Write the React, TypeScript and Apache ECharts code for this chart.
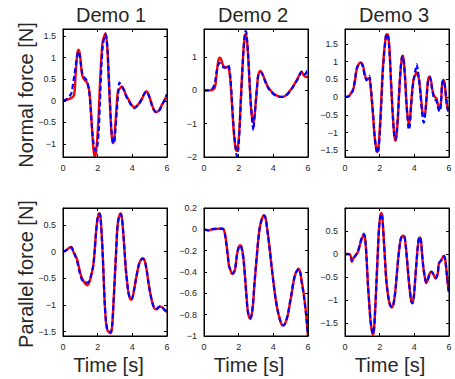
import React, { useEffect, useRef } from "react";
import * as echarts from "echarts";

const titles = ["Demo 1", "Demo 2", "Demo 3"];
const rowLabels = ["Normal force [N]", "Parallel force [N]"];
const xLabel = "Time [s]";

const yMins = [-1.3, -2, -1.69, -1.58, -1, -1.78];
const yMaxs = [1.66, 1.84, 1.92, 0.82, 0.2, 1.0];
const ySplits = [5, 5, 7, 5, 5, 5];
const yTicks1 = [-1, -0.5, 0, 0.5, 1, 1.5];
const yTicks2 = [-2, -1, 0, 1];
const yTicks3 = [-1.5, -1, -0.5, 0, 0.5, 1, 1.5];
const yTicks4 = [-1.5, -1, -0.5, 0, 0.5];
const yTicks5 = [-1, -0.8, -0.6, -0.4, -0.2, 0, 0.2];
const yTicks6 = [-1.5, -1, -0.5, 0, 0.5];
const yTickSets = [yTicks1, yTicks2, yTicks3, yTicks4, yTicks5, yTicks6];

const red1 = [[0,0],[0.19,0.02],[0.4,0.05],[0.6,0.1],[0.67,0.22],[0.75,0.75],[0.83,1.1],[0.9,1.18],[0.98,1.06],[1.06,0.75],[1.13,0.56],[1.25,0.48],[1.37,0.43],[1.44,0.37],[1.52,0.22],[1.6,-0.17],[1.67,-0.63],[1.75,-1.09],[1.83,-1.3],[1.9,-1.2],[1.98,-0.86],[2.06,-0.32],[2.13,0.37],[2.21,0.98],[2.29,1.37],[2.4,1.52],[2.46,1.56],[2.56,1.2],[2.63,0.6],[2.71,-0.09],[2.79,-0.7],[2.87,-0.98],[2.94,-0.94],[3.02,-0.55],[3.1,-0.09],[3.17,0.22],[3.29,0.29],[3.4,0.33],[3.52,0.25],[3.65,0.12],[3.79,0.02],[3.94,-0.09],[4.13,-0.15],[4.33,-0.09],[4.52,0.02],[4.67,0.14],[4.81,0.22],[4.94,0.14],[5.1,-0.05],[5.25,-0.21],[5.4,-0.26],[5.56,-0.21],[5.71,-0.09],[5.87,0.02],[6,0.14]];
const blue1 = [[0,0],[0.19,0.03],[0.4,0.12],[0.5,0.2],[0.6,0.45],[0.67,0.62],[0.75,0.85],[0.83,1.07],[0.9,1.14],[0.98,1.0],[1.06,0.75],[1.13,0.6],[1.25,0.53],[1.37,0.47],[1.44,0.36],[1.52,0.18],[1.6,-0.2],[1.67,-0.6],[1.75,-0.95],[1.83,-1.12],[1.9,-1.15],[1.98,-1.05],[2.06,-0.7],[2.13,-0.05],[2.21,0.75],[2.29,1.25],[2.4,1.5],[2.46,1.53],[2.56,1.25],[2.63,0.65],[2.71,-0.05],[2.79,-0.65],[2.87,-0.95],[2.94,-0.98],[3.02,-0.7],[3.1,-0.25],[3.17,0.1],[3.25,0.42],[3.29,0.4],[3.4,0.33],[3.52,0.24],[3.65,0.1],[3.79,0],[3.94,-0.1],[4.13,-0.17],[4.33,-0.1],[4.52,0.02],[4.67,0.15],[4.81,0.21],[4.94,0.13],[5.1,-0.07],[5.25,-0.22],[5.4,-0.27],[5.56,-0.22],[5.71,-0.1],[5.87,0.03],[6,0.15]];

const red2 = [[0,0],[0.25,0],[0.44,0.01],[0.6,0.05],[0.67,0.2],[0.75,0.6],[0.83,0.9],[0.9,0.98],[0.98,0.95],[1.06,0.8],[1.17,0.7],[1.29,0.68],[1.37,0.72],[1.44,0.65],[1.52,0.3],[1.6,-0.3],[1.67,-0.9],[1.75,-1.45],[1.83,-1.75],[1.9,-1.82],[1.98,-1.6],[2.06,-1.0],[2.13,-0.2],[2.21,0.6],[2.29,1.3],[2.37,1.65],[2.42,1.7],[2.48,1.5],[2.56,0.9],[2.63,0.2],[2.71,-0.5],[2.79,-0.9],[2.85,-0.96],[2.9,-0.85],[2.98,-0.4],[3.06,0.1],[3.13,0.45],[3.25,0.58],[3.37,0.5],[3.52,0.3],[3.67,0.12],[3.83,0],[4.02,-0.1],[4.21,-0.16],[4.4,-0.19],[4.6,-0.19],[4.79,-0.12],[4.98,0],[5.17,0.15],[5.37,0.32],[5.52,0.48],[5.63,0.56],[5.75,0.45],[5.87,0.4],[6,0.42]];
const blue2 = [[0,0],[0.25,0],[0.44,0.03],[0.6,0.16],[0.67,0.35],[0.75,0.62],[0.83,0.78],[0.9,0.82],[0.98,0.78],[1.06,0.72],[1.17,0.68],[1.29,0.7],[1.37,0.76],[1.44,0.72],[1.52,0.4],[1.6,-0.2],[1.67,-0.8],[1.75,-1.35],[1.83,-1.75],[1.9,-1.98],[1.98,-1.75],[2.06,-1.1],[2.13,-0.3],[2.21,0.55],[2.29,1.3],[2.37,1.75],[2.42,1.78],[2.48,1.55],[2.56,0.95],[2.63,0.25],[2.71,-0.45],[2.79,-0.95],[2.85,-1.2],[2.9,-0.9],[2.98,-0.4],[3.06,0.1],[3.13,0.45],[3.25,0.55],[3.37,0.48],[3.52,0.28],[3.67,0.1],[3.83,-0.02],[4.02,-0.12],[4.21,-0.17],[4.4,-0.2],[4.6,-0.19],[4.79,-0.13],[4.98,-0.02],[5.17,0.13],[5.37,0.3],[5.52,0.47],[5.63,0.56],[5.75,0.48],[5.87,0.5],[5.94,0.58],[6,0.5]];

const red3 = [[0,0],[0.21,0.02],[0.33,0.1],[0.44,0.16],[0.56,0.4],[0.67,0.77],[0.79,0.93],[0.9,0.98],[1.02,0.91],[1.13,0.67],[1.25,0.49],[1.32,0.52],[1.4,0.53],[1.47,0.3],[1.55,-0.12],[1.63,-0.59],[1.7,-1.06],[1.78,-1.39],[1.86,-1.55],[1.93,-1.43],[2.01,-0.87],[2.09,-0.12],[2.16,0.63],[2.24,1.19],[2.32,1.57],[2.39,1.75],[2.47,1.77],[2.55,1.47],[2.62,0.82],[2.7,-0.03],[2.78,-0.68],[2.85,-1.1],[2.91,-1.23],[2.97,-1.1],[3.05,-0.59],[3.12,0.07],[3.2,0.72],[3.28,1.1],[3.33,1.17],[3.39,1.05],[3.47,0.53],[3.54,-0.12],[3.62,-0.59],[3.68,-0.73],[3.74,-0.64],[3.81,-0.22],[3.89,0.25],[3.97,0.53],[4.08,0.65],[4.14,0.7],[4.2,0.62],[4.27,0.5],[4.35,0.16],[4.43,-0.26],[4.5,-0.5],[4.58,-0.54],[4.66,-0.31],[4.74,0.21],[4.81,0.53],[4.89,0.58],[4.97,0.44],[5.04,0.21],[5.15,0.02],[5.27,-0.03],[5.34,-0.17],[5.42,-0.31],[5.48,-0.33],[5.54,-0.12],[5.61,0.39],[5.69,0.49],[5.77,0.3],[5.84,-0.07],[5.92,-0.31],[6,-0.36]];
const blue3 = [[0,0],[0.21,0.02],[0.33,0.1],[0.44,0.18],[0.56,0.45],[0.67,0.8],[0.79,0.92],[0.9,0.96],[1.02,0.88],[1.13,0.62],[1.25,0.47],[1.32,0.55],[1.4,0.6],[1.47,0.4],[1.55,-0.05],[1.63,-0.55],[1.7,-1.05],[1.78,-1.4],[1.86,-1.58],[1.93,-1.5],[2.01,-1.0],[2.09,-0.25],[2.16,0.5],[2.24,1.1],[2.32,1.55],[2.39,1.78],[2.47,1.75],[2.55,1.4],[2.62,0.8],[2.7,0.0],[2.78,-0.7],[2.85,-1.12],[2.91,-1.2],[2.97,-1.05],[3.05,-0.55],[3.12,0.1],[3.2,0.75],[3.28,1.12],[3.33,1.15],[3.39,1.0],[3.47,0.5],[3.54,-0.15],[3.62,-0.65],[3.68,-0.92],[3.74,-0.8],[3.81,-0.3],[3.89,0.2],[3.97,0.5],[4.08,0.8],[4.14,0.92],[4.2,0.75],[4.27,0.5],[4.35,0.1],[4.43,-0.35],[4.5,-0.65],[4.55,-0.72],[4.6,-0.6],[4.66,-0.3],[4.74,0.2],[4.81,0.5],[4.89,0.56],[4.97,0.42],[5.04,0.18],[5.15,-0.05],[5.27,-0.1],[5.34,-0.25],[5.42,-0.38],[5.48,-0.4],[5.54,-0.15],[5.61,0.4],[5.69,0.48],[5.77,0.28],[5.84,-0.05],[5.92,-0.35],[6,-0.42]];

const red4 = [[0,0],[0.19,0.03],[0.38,0.08],[0.48,0.09],[0.6,0],[0.71,-0.07],[0.83,-0.16],[0.94,-0.32],[1.06,-0.47],[1.17,-0.54],[1.29,-0.6],[1.4,-0.63],[1.52,-0.57],[1.63,-0.44],[1.75,-0.25],[1.83,0.03],[1.9,0.34],[1.98,0.59],[2.06,0.71],[2.12,0.72],[2.17,0.63],[2.25,0.22],[2.33,-0.35],[2.4,-0.92],[2.48,-1.32],[2.56,-1.47],[2.67,-1.51],[2.75,-1.53],[2.83,-1.42],[2.9,-1.04],[2.98,-0.54],[3.06,-0.03],[3.13,0.41],[3.21,0.63],[3.33,0.72],[3.4,0.63],[3.48,0.34],[3.56,-0.03],[3.63,-0.35],[3.71,-0.6],[3.79,-0.79],[3.87,-0.88],[3.94,-0.9],[4.02,-0.85],[4.13,-0.66],[4.25,-0.44],[4.37,-0.25],[4.48,-0.16],[4.6,-0.12],[4.71,-0.16],[4.83,-0.35],[4.94,-0.6],[5.06,-0.82],[5.17,-0.98],[5.29,-1.07],[5.4,-1.08],[5.52,-1.04],[5.63,-1.03],[5.75,-1.05],[5.87,-1.1],[6,-1.13]];
const blue4 = [[0,0],[0.19,0.03],[0.38,0.07],[0.48,0.08],[0.6,0],[0.71,-0.08],[0.83,-0.2],[0.94,-0.36],[1.06,-0.5],[1.17,-0.56],[1.29,-0.58],[1.4,-0.58],[1.52,-0.55],[1.63,-0.43],[1.75,-0.25],[1.83,0.03],[1.9,0.34],[1.98,0.59],[2.06,0.7],[2.12,0.71],[2.17,0.62],[2.25,0.22],[2.33,-0.35],[2.4,-0.92],[2.48,-1.3],[2.56,-1.46],[2.67,-1.5],[2.75,-1.51],[2.83,-1.4],[2.9,-1.04],[2.98,-0.54],[3.06,-0.03],[3.13,0.41],[3.21,0.63],[3.33,0.71],[3.4,0.63],[3.48,0.34],[3.56,-0.03],[3.63,-0.35],[3.71,-0.6],[3.79,-0.79],[3.87,-0.87],[3.94,-0.89],[4.02,-0.84],[4.13,-0.66],[4.25,-0.44],[4.37,-0.25],[4.48,-0.16],[4.6,-0.13],[4.71,-0.17],[4.83,-0.35],[4.94,-0.6],[5.06,-0.82],[5.17,-0.97],[5.29,-1.06],[5.4,-1.07],[5.52,-1.04],[5.63,-1.02],[5.75,-1.05],[5.87,-1.09],[6,-1.12]];

const red5 = [[0,0],[0.25,-0.01],[0.44,0],[0.63,0.003],[0.83,0.005],[1.02,0.005],[1.13,0],[1.21,-0.04],[1.29,-0.13],[1.37,-0.24],[1.44,-0.34],[1.52,-0.38],[1.6,-0.41],[1.67,-0.42],[1.75,-0.4],[1.83,-0.34],[1.9,-0.24],[1.98,-0.18],[2.06,-0.15],[2.13,-0.15],[2.21,-0.2],[2.29,-0.29],[2.37,-0.45],[2.44,-0.6],[2.52,-0.76],[2.6,-0.82],[2.67,-0.84],[2.75,-0.8],[2.83,-0.7],[2.9,-0.54],[2.98,-0.38],[3.06,-0.23],[3.13,-0.1],[3.21,0.01],[3.29,0.07],[3.37,0.11],[3.46,0.13],[3.56,0.1],[3.63,0.02],[3.71,-0.07],[3.79,-0.18],[3.9,-0.35],[4.02,-0.51],[4.13,-0.65],[4.25,-0.76],[4.37,-0.84],[4.48,-0.89],[4.6,-0.9],[4.71,-0.87],[4.83,-0.81],[4.94,-0.71],[5.06,-0.6],[5.17,-0.49],[5.29,-0.41],[5.4,-0.38],[5.46,-0.37],[5.56,-0.41],[5.63,-0.48],[5.75,-0.6],[5.87,-0.76],[5.94,-0.88],[6,-1.0]];
const blue5 = [[0,0],[0.25,-0.01],[0.44,0],[0.63,0.004],[0.83,0.006],[1.02,0.006],[1.13,0],[1.21,-0.05],[1.29,-0.14],[1.37,-0.25],[1.44,-0.34],[1.52,-0.38],[1.6,-0.41],[1.67,-0.41],[1.75,-0.39],[1.83,-0.33],[1.9,-0.24],[1.98,-0.18],[2.06,-0.15],[2.13,-0.16],[2.21,-0.2],[2.29,-0.3],[2.37,-0.46],[2.44,-0.61],[2.52,-0.76],[2.6,-0.82],[2.67,-0.83],[2.75,-0.8],[2.83,-0.69],[2.9,-0.53],[2.98,-0.37],[3.06,-0.22],[3.13,-0.1],[3.21,0.01],[3.29,0.07],[3.37,0.11],[3.46,0.13],[3.56,0.1],[3.63,0.02],[3.71,-0.08],[3.79,-0.19],[3.9,-0.35],[4.02,-0.52],[4.13,-0.65],[4.25,-0.76],[4.37,-0.84],[4.48,-0.89],[4.6,-0.9],[4.71,-0.87],[4.83,-0.8],[4.94,-0.7],[5.06,-0.59],[5.17,-0.48],[5.29,-0.41],[5.4,-0.38],[5.46,-0.37],[5.56,-0.41],[5.63,-0.49],[5.75,-0.61],[5.87,-0.77],[5.94,-0.89],[6,-1.0]];

const red6 = [[0,0],[0.21,0],[0.33,-0.04],[0.4,-0.17],[0.52,-0.07],[0.63,-0.02],[0.75,0.05],[0.86,0.2],[0.98,0.34],[1.09,0.44],[1.17,0.31],[1.25,-0.13],[1.32,-0.64],[1.4,-1.08],[1.47,-1.44],[1.55,-1.66],[1.61,-1.75],[1.67,-1.66],[1.74,-1.22],[1.82,-0.57],[1.9,0.09],[1.97,0.6],[2.05,0.85],[2.11,0.89],[2.16,0.78],[2.24,0.31],[2.32,-0.2],[2.39,-0.6],[2.47,-0.86],[2.55,-1.04],[2.62,-1.13],[2.7,-1.16],[2.78,-1.11],[2.85,-0.97],[2.93,-0.71],[3.0,-0.39],[3.08,-0.06],[3.16,0.2],[3.23,0.34],[3.35,0.4],[3.43,0.38],[3.51,0.16],[3.58,-0.13],[3.66,-0.49],[3.74,-0.79],[3.81,-1.0],[3.89,-1.06],[3.97,-0.93],[4.04,-0.6],[4.12,-0.2],[4.2,0.16],[4.27,0.34],[4.33,0.36],[4.39,0.27],[4.46,-0.06],[4.54,-0.35],[4.62,-0.53],[4.69,-0.63],[4.77,-0.57],[4.89,-0.42],[5.0,-0.39],[5.12,-0.46],[5.23,-0.53],[5.35,-0.42],[5.42,-0.2],[5.54,-0.15],[5.65,-0.06],[5.73,-0.04],[5.8,-0.17],[5.88,-0.46],[5.96,-0.75],[6,-0.82]];
const blue6 = [[0,0],[0.21,0],[0.33,-0.03],[0.4,-0.15],[0.52,-0.08],[0.63,-0.02],[0.75,0.06],[0.86,0.22],[0.98,0.37],[1.09,0.43],[1.17,0.3],[1.25,-0.13],[1.32,-0.64],[1.4,-1.08],[1.47,-1.44],[1.55,-1.66],[1.61,-1.73],[1.67,-1.65],[1.74,-1.22],[1.82,-0.57],[1.9,0.09],[1.97,0.6],[2.05,0.85],[2.11,0.88],[2.16,0.78],[2.24,0.31],[2.32,-0.2],[2.39,-0.6],[2.47,-0.86],[2.55,-1.04],[2.62,-1.12],[2.7,-1.15],[2.78,-1.11],[2.85,-0.97],[2.93,-0.71],[3.0,-0.39],[3.08,-0.06],[3.16,0.2],[3.23,0.34],[3.35,0.4],[3.43,0.38],[3.51,0.16],[3.58,-0.13],[3.66,-0.49],[3.74,-0.79],[3.81,-1.0],[3.89,-1.07],[3.97,-0.93],[4.04,-0.6],[4.12,-0.2],[4.2,0.16],[4.27,0.35],[4.33,0.37],[4.39,0.27],[4.46,-0.06],[4.54,-0.35],[4.62,-0.53],[4.69,-0.62],[4.77,-0.57],[4.89,-0.42],[5.0,-0.38],[5.12,-0.45],[5.23,-0.52],[5.35,-0.42],[5.42,-0.2],[5.54,-0.14],[5.65,-0.06],[5.73,-0.05],[5.8,-0.17],[5.88,-0.46],[5.96,-0.75],[6,-0.83]];

const redSeries = [red1, red2, red3, red4, red5, red6];
const blueSeries = [blue1, blue2, blue3, blue4, blue5, blue6];

const TXT = "#262626";
const FONT = "Liberation Sans, Arial, sans-serif";
const LEFTS = [63, 204, 345];
const TOPS = [29, 208];

function makeGrids(withBorder: boolean) {
  const grids: any[] = [];
  for (let i = 0; i < 6; i++) {
    const g: any = { left: LEFTS[i % 3], top: TOPS[Math.floor(i / 3)], width: 104, height: 128 };
    if (withBorder) { g.show = true; g.borderColor = "#000"; g.borderWidth = 1; }
    grids.push(g);
  }
  return grids;
}

export default function App() {
  const seriesRef = useRef<HTMLDivElement>(null);
  const frameRef = useRef<HTMLDivElement>(null);

  // chart with the curves and the big texts
  useEffect(() => {
    if (!seriesRef.current) return;
    const chart = echarts.init(seriesRef.current, undefined, { renderer: "svg" });
    const xAxes: any[] = [];
    const yAxes: any[] = [];
    const series: any[] = [];
    for (let i = 0; i < 6; i++) {
      xAxes.push({ type: "value", gridIndex: i, min: 0, max: 6, show: false });
      yAxes.push({ type: "value", gridIndex: i, min: yMins[i], max: yMaxs[i], show: false });
      series.push({
        type: "line", xAxisIndex: i, yAxisIndex: i, data: redSeries[i], showSymbol: false,
        smooth: 0.3, lineStyle: { color: "#ff0000", width: 2.4 },
      });
      series.push({
        type: "line", xAxisIndex: i, yAxisIndex: i, data: blueSeries[i], showSymbol: false,
        smooth: 0.3, lineStyle: { color: "#0000ff", width: 2.2, type: [5, 3] },
      });
    }
    const graphics: any[] = [];
    const titleX = [111, 253, 394];
    const xLabX = [108.5, 249, 390];
    titles.forEach((t, i) => {
      graphics.push({ type: "text", x: titleX[i], y: 14.5, style: { text: t, fill: TXT,
        font: `20px ${FONT}`, textAlign: "center", textVerticalAlign: "middle" } });
      graphics.push({ type: "text", x: xLabX[i], y: 365, style: { text: xLabel, fill: TXT,
        font: `20px ${FONT}`, textAlign: "center", textVerticalAlign: "middle" } });
    });
    const rowY = [95, 274];
    rowLabels.forEach((t, i) => {
      graphics.push({ type: "text", x: 25.5, y: rowY[i], rotation: Math.PI / 2, style: { text: t, fill: TXT,
        font: `20px ${FONT}`, textAlign: "center", textVerticalAlign: "middle" } });
    });
    chart.setOption({
      animation: false, backgroundColor: "transparent",
      grid: makeGrids(false), xAxis: xAxes, yAxis: yAxes, series, graphic: graphics,
    });
    return () => chart.dispose();
  }, []);

  // chart with the boxes, ticks and tick labels, laid on top
  useEffect(() => {
    if (!frameRef.current) return;
    const chart = echarts.init(frameRef.current, undefined, { renderer: "svg" });
    const fmtY = (ticks: number[]) => (v: number) => {
      if (!ticks.some((t) => Math.abs(t - v) < 1e-6)) return "";
      return String(parseFloat(v.toFixed(2))).replace("-", "\u2212");
    };
    const xAxes: any[] = [];
    const yAxes: any[] = [];
    for (let i = 0; i < 6; i++) {
      xAxes.push({
        type: "value", gridIndex: i, min: 0, max: 6, interval: 2,
        axisLine: { show: true, onZero: false, lineStyle: { color: "#000", width: 1 } },
        axisTick: { show: true, inside: true, length: 3, lineStyle: { color: "#000" } },
        splitLine: { show: false },
        axisLabel: { fontSize: 9, color: TXT, fontFamily: "Liberation Sans", margin: 6 },
      });
      yAxes.push({
        type: "value", gridIndex: i, min: yMins[i], max: yMaxs[i], splitNumber: ySplits[i],
        axisLine: { show: true, onZero: false, lineStyle: { color: "#000", width: 1 } },
        axisTick: { show: true, inside: true, length: 3, lineStyle: { color: "#000" } },
        splitLine: { show: false },
        axisLabel: { fontSize: 9, color: TXT, fontFamily: "Liberation Sans", margin: 7, formatter: fmtY(yTickSets[i]) },
      });
    }
    for (let i = 0; i < 6; i++) {
      xAxes.push({
        type: "value", gridIndex: i, position: "top", min: 0, max: 6, interval: 2,
        axisLine: { show: true, onZero: false, lineStyle: { color: "#000", width: 1 } },
        axisTick: { show: true, inside: true, length: 3, lineStyle: { color: "#000" } },
        axisLabel: { show: false }, splitLine: { show: false },
      });
      yAxes.push({
        type: "value", gridIndex: i, position: "right", min: yMins[i], max: yMaxs[i], splitNumber: ySplits[i],
        axisLine: { show: true, onZero: false, lineStyle: { color: "#000", width: 1 } },
        axisTick: { show: true, inside: true, length: 3, lineStyle: { color: "#000" } },
        axisLabel: { show: false }, splitLine: { show: false },
      });
    }
    chart.setOption({
      animation: false, backgroundColor: "transparent",
      grid: makeGrids(true), xAxis: xAxes, yAxis: yAxes,
    });
    return () => chart.dispose();
  }, []);

  const box: React.CSSProperties = { position: "absolute", left: 0, top: 0, width: 455, height: 379 };
  return (
    <div style={{ position: "absolute", left: 0, top: 0, width: 455, height: 379, background: "#fff" }}>
      <div ref={seriesRef} style={{ ...box, zIndex: 1 }} />
      <div ref={frameRef} style={{ ...box, zIndex: 2, pointerEvents: "none" }} />
    </div>
  );
}
